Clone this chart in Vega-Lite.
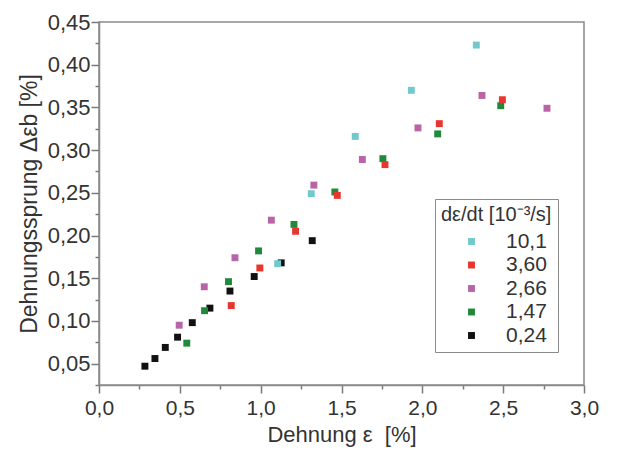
{
  "$schema": "https://vega.github.io/schema/vega-lite/v6.json",
  "width": 485,
  "height": 363,
  "autosize": "none",
  "padding": {"left": 99, "top": 22, "right": 33, "bottom": 65},
  "background": "white",
  "config": {
    "font": "Liberation Sans",
    "view": {"stroke": "#8a8a8a", "strokeWidth": 1.5}
  },
  "data": {
    "values": [
      {"x": 1.319, "y": 0.194, "rate": "0,24"},
      {"x": 1.127, "y": 0.168, "rate": "0,24"},
      {"x": 0.960, "y": 0.152, "rate": "0,24"},
      {"x": 0.810, "y": 0.135, "rate": "0,24"},
      {"x": 0.686, "y": 0.115, "rate": "0,24"},
      {"x": 0.577, "y": 0.098, "rate": "0,24"},
      {"x": 0.486, "y": 0.081, "rate": "0,24"},
      {"x": 0.410, "y": 0.069, "rate": "0,24"},
      {"x": 0.346, "y": 0.056, "rate": "0,24"},
      {"x": 0.284, "y": 0.047, "rate": "0,24"},
      {"x": 2.485, "y": 0.352, "rate": "1,47"},
      {"x": 2.095, "y": 0.319, "rate": "1,47"},
      {"x": 1.756, "y": 0.290, "rate": "1,47"},
      {"x": 1.459, "y": 0.251, "rate": "1,47"},
      {"x": 1.206, "y": 0.213, "rate": "1,47"},
      {"x": 0.987, "y": 0.182, "rate": "1,47"},
      {"x": 0.801, "y": 0.146, "rate": "1,47"},
      {"x": 0.653, "y": 0.112, "rate": "1,47"},
      {"x": 0.543, "y": 0.074, "rate": "1,47"},
      {"x": 2.369, "y": 0.364, "rate": "2,66"},
      {"x": 2.771, "y": 0.349, "rate": "2,66"},
      {"x": 1.973, "y": 0.326, "rate": "2,66"},
      {"x": 1.629, "y": 0.289, "rate": "2,66"},
      {"x": 1.329, "y": 0.259, "rate": "2,66"},
      {"x": 1.066, "y": 0.218, "rate": "2,66"},
      {"x": 0.841, "y": 0.174, "rate": "2,66"},
      {"x": 0.651, "y": 0.140, "rate": "2,66"},
      {"x": 0.496, "y": 0.095, "rate": "2,66"},
      {"x": 2.495, "y": 0.359, "rate": "3,60"},
      {"x": 2.105, "y": 0.331, "rate": "3,60"},
      {"x": 1.769, "y": 0.283, "rate": "3,60"},
      {"x": 1.474, "y": 0.247, "rate": "3,60"},
      {"x": 1.216, "y": 0.205, "rate": "3,60"},
      {"x": 0.995, "y": 0.162, "rate": "3,60"},
      {"x": 0.818, "y": 0.118, "rate": "3,60"},
      {"x": 2.334, "y": 0.423, "rate": "10,1"},
      {"x": 1.932, "y": 0.370, "rate": "10,1"},
      {"x": 1.585, "y": 0.316, "rate": "10,1"},
      {"x": 1.313, "y": 0.249, "rate": "10,1"},
      {"x": 1.105, "y": 0.167, "rate": "10,1"}
    ]
  },
  "mark": {"type": "point", "shape": "square", "filled": true, "opacity": 1, "size": 48},
  "encoding": {
    "x": {
      "field": "x", "type": "quantitative",
      "scale": {"domain": [0, 3], "nice": false, "zero": false},
      "axis": {
        "title": "Dehnung ε\u00a0\u00a0[%]",
        "titleFontSize": 22, "titleFontWeight": "normal", "titleColor": "#333333", "titlePadding": 6,
        "values": [0, 0.25, 0.5, 0.75, 1, 1.25, 1.5, 1.75, 2, 2.25, 2.5, 2.75, 3],
        "labelExpr": "abs(datum.value*2 - round(datum.value*2)) < 0.01 ? replace(format(datum.value, '.1f'), '.', ',') : ''",
        "labelOverlap": false, "labelFontSize": 21, "labelColor": "#333333", "labelPadding": 4,
        "labelFlush": false,
        "tickSize": {"condition": {"test": "abs(datum.value*2 - round(datum.value*2)) < 0.01", "value": 8}, "value": 4},
        "tickColor": "#7a7a7a", "tickWidth": 1.5,
        "domainColor": "#8a8a8a", "domainWidth": 1.5,
        "grid": false
      }
    },
    "y": {
      "field": "y", "type": "quantitative",
      "scale": {"domain": [0.025, 0.45], "nice": false, "zero": false},
      "axis": {
        "title": "Dehnungssprung Δεb [%]",
        "titleFontSize": 23, "titleFontWeight": "normal", "titleColor": "#333333", "titlePadding": 6,
        "values": [0.025, 0.05, 0.075, 0.1, 0.125, 0.15, 0.175, 0.2, 0.225, 0.25, 0.275, 0.3, 0.325, 0.35, 0.375, 0.4, 0.425, 0.45],
        "labelExpr": "abs(datum.value*20 - round(datum.value*20)) < 0.01 ? replace(format(datum.value, '.2f'), '.', ',') : ''",
        "labelOverlap": false, "labelFontSize": 22, "labelColor": "#333333", "labelPadding": 1,
        "labelFlush": false,
        "tickSize": {"condition": {"test": "abs(datum.value*20 - round(datum.value*20)) < 0.01", "value": 8}, "value": 4},
        "tickColor": "#7a7a7a", "tickWidth": 1.5,
        "domainColor": "#8a8a8a", "domainWidth": 1.5,
        "grid": false
      }
    },
    "color": {
      "field": "rate", "type": "nominal",
      "scale": {
        "domain": ["10,1", "3,60", "2,66", "1,47", "0,24"],
        "range": ["#72c9cc", "#e8352e", "#b865a8", "#1f8a3a", "#111111"]
      },
      "legend": {
        "title": "dε/dt [10⁻³/s]",
        "orient": "none", "legendX": 336, "legendY": 177,
        "titleFontSize": 20, "titleFontWeight": "normal", "titleColor": "#333333", "titlePadding": 6,
        "labelFontSize": 21, "labelColor": "#333333", "labelOffset": 24,
        "symbolType": "square", "symbolSize": 48, "symbolOffset": 20, "symbolStrokeWidth": 0,
        "rowPadding": 1.5, "padding": 6,
        "strokeColor": "#8a8a8a", "fillColor": "white"
      }
    }
  }
}
